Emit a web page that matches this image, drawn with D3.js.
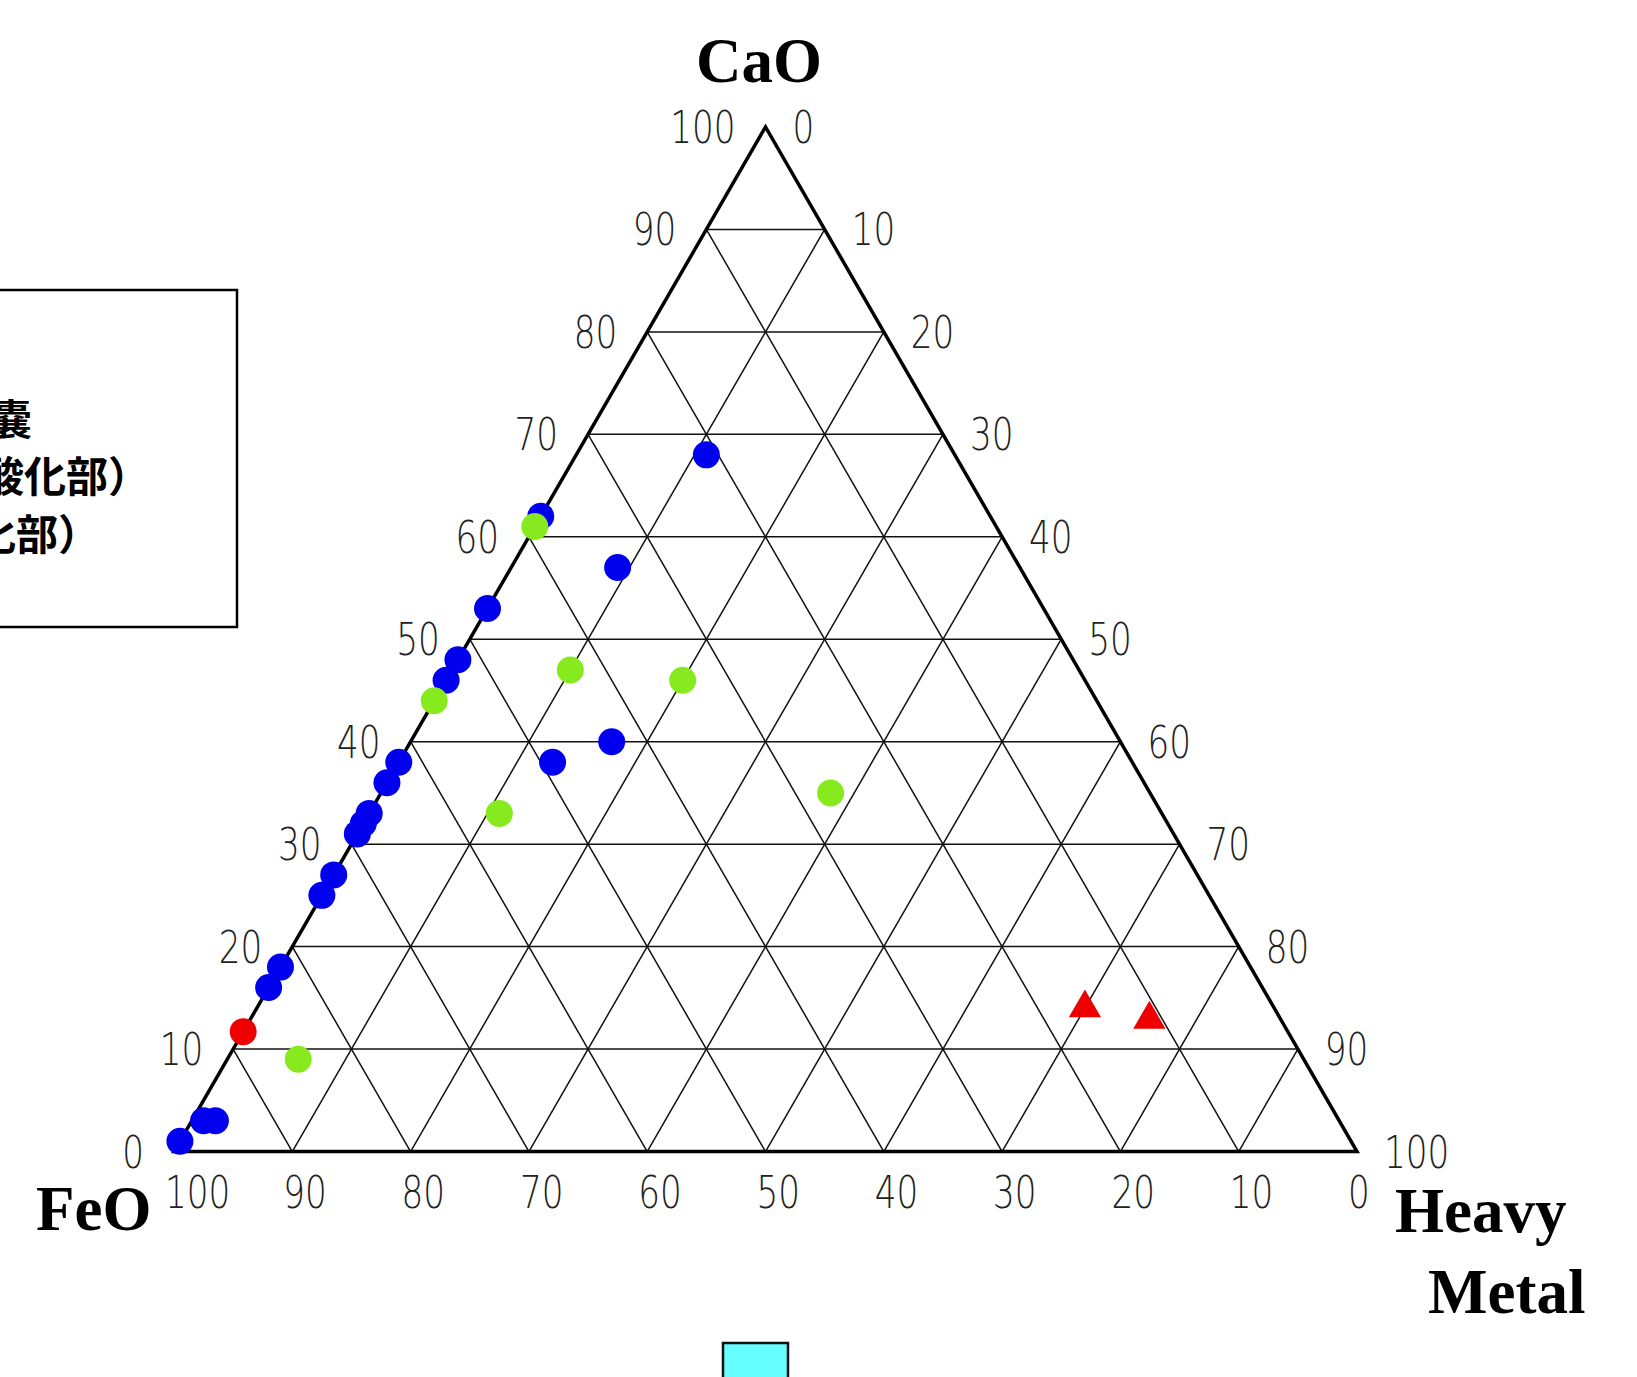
<!doctype html>
<html lang="ja">
<head>
<meta charset="utf-8">
<title>CaO - FeO - Heavy Metal</title>
<script src="https://d3js.org/d3.v7.min.js"></script>
<style>
body { margin: 0; background: #fff; }
svg { display: block; }
.grid { stroke: #111; stroke-width: 1.5; fill: none; }
.frame { stroke: #000; stroke-width: 3.5; fill: none; }
.tick { font-family: "DejaVu Sans", sans-serif; font-weight: 200; font-size: 45px; fill: #222; }
.title { font-family: "Liberation Serif", "Times New Roman", serif; font-weight: bold; font-size: 63px; fill: #000; }
.legend text { font-family: "Noto Sans CJK JP", sans-serif; font-weight: bold; font-size: 42px; fill: #000; }
</style>
</head>
<body>
<svg width="1637" height="1377"></svg>
<script>
// values, percent (CaO, Heavy Metal; FeO is the rest)
var ticks = [0, 10, 20, 30, 40, 50, 60, 70, 80, 90, 100];

var blueCaO = [68, 62, 57, 53, 48, 46, 40, 38, 38, 36, 33, 32, 31, 27, 25, 18, 16, 3, 3, 1];
var blueHM  = [11,  0,  9,  0,  0,  0, 17, 13,  0,  0,  0,  0,  0,  0,  0,  0,  0, 1, 2, 0];

var greenCaO = [61, 47, 46, 44, 35, 33, 9];
var greenHM  = [ 0, 10, 20,  0, 38, 11, 6];

var redCaO = [11.7];
var redHM  = [0];

var triCaO = [14, 12.9];
var triHM  = [70, 76];

var legendLines = ["土嚢", "鉄滓（未酸化部）", "鉄滓（酸化部）"];

var svg = d3.select('svg');

// triangle geometry
var x0 = 174, y0 = 1151.5, W = 1183, H = W * Math.sqrt(3) / 2;

var yScale = d3.scaleLinear().domain([0, 100]).range([y0, y0 - H]);
var hScale = d3.scaleLinear().domain([0, 100]).range([0, W]);

function project(c, h) {
  return [x0 + hScale(h) + hScale(c) / 2, yScale(c)];
}

// grid
var inner = ticks.slice(1, -1);
var segs = [];
inner.forEach(function(v){
  segs.push([project(v, 0), project(v, 100 - v)]);        // CaO const
  segs.push([project(0, v), project(100 - v, v)]);        // Heavy metal const
  segs.push([project(0, 100 - v), project(100 - v, 0)]);  // FeO const
});

svg.append('g').selectAll('line').data(segs)
  .enter().append('line')
    .attr('class', 'grid')
    .attr('x1', function(d){ return d[0][0]; })
    .attr('y1', function(d){ return d[0][1]; })
    .attr('x2', function(d){ return d[1][0]; })
    .attr('y2', function(d){ return d[1][1]; });

svg.append('path')
  .attr('class', 'frame')
  .attr('d', d3.line()([project(0, 0), project(100, 0), project(0, 100)]) + 'Z');

// tick labels
function tickText(x, y, txt, anchor) {
  svg.append('text')
    .attr('class', 'tick')
    .attr('transform', 'translate(' + x + ',' + y + ') scale(0.76,1)')
    .attr('text-anchor', anchor)
    .text(txt);
}

ticks.forEach(function(v){
  var pl = project(v, 0);
  tickText(pl[0] - 30, pl[1] + 16, v, 'end');              // CaO, left side
  var pr = project(v, 100 - v);
  tickText(pr[0] + 27, pr[1] + 16, 100 - v, 'start');      // Heavy metal, right side
  var pb = project(0, 100 - v);
  tickText(pb[0] - 9, y0 + 56, v, 'start');                // FeO, bottom
});

// titles
svg.append('text').attr('class', 'title').attr('x', 759).attr('y', 82)
  .attr('text-anchor', 'middle').text('CaO');
svg.append('text').attr('class', 'title').attr('x', 36).attr('y', 1230).text('FeO');
svg.append('text').attr('class', 'title').attr('x', 1395).attr('y', 1232).text('Heavy');
svg.append('text').attr('class', 'title').attr('x', 1428).attr('y', 1313).text('Metal');

// points
function dots(cs, hs, color) {
  svg.append('g').selectAll('circle').data(cs)
    .enter().append('circle')
      .attr('cx', function(d, i){ return project(d, hs[i])[0]; })
      .attr('cy', function(d, i){ return project(d, hs[i])[1]; })
      .attr('r', 13.5)
      .attr('fill', color);
}
dots(blueCaO, blueHM, '#0000ee');
dots(greenCaO, greenHM, '#86ea1e');
dots(redCaO, redHM, '#ee0000');

svg.append('g').selectAll('path').data(triCaO)
  .enter().append('path')
    .attr('d', d3.symbol().type(d3.symbolTriangle).size(450))
    .attr('transform', function(d, i){
      var p = project(d, triHM[i]);
      return 'translate(' + p[0] + ',' + p[1] + ')';
    })
    .attr('fill', '#ee0000');

// legend box (runs off the left edge, as in the source)
var lg = svg.append('g').attr('class', 'legend');
lg.append('rect').attr('x', -10).attr('y', 290).attr('width', 247).attr('height', 337)
  .attr('fill', '#fff').attr('stroke', '#000').attr('stroke-width', 2.5);
var legendEnds = [32, 150, 100], legendBase = [435, 492, 550];
legendLines.forEach(function(t, i){
  lg.append('text').attr('x', legendEnds[i]).attr('y', legendBase[i])
    .attr('text-anchor', 'end').text(t);
});

// cyan box at the bottom
svg.append('rect').attr('x', 723).attr('y', 1343).attr('width', 65).attr('height', 50)
  .attr('fill', '#66ffff').attr('stroke', '#111').attr('stroke-width', 2.5);
</script>
</body>
</html>
